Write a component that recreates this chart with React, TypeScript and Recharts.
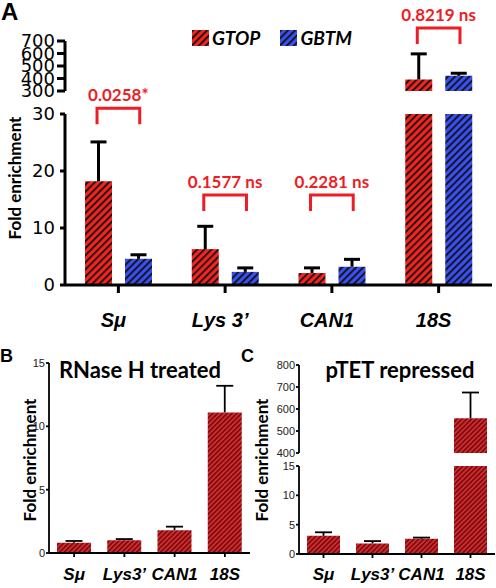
import React from "react";
import { BarChart, Bar, XAxis, YAxis, ReferenceLine, Legend } from "recharts";

// panel A: GTOP vs GBTM
const genesA = ["Sμ", "Lys 3’", "CAN1", "18S"];
const seriesA = ["GTOP", "GBTM"];
const gtop = [18.2, 6.3, 2.1, 392];
const gtopErr = [6.9, 4.0, 0.9, 205];
const gbtm = [4.6, 2.3, 3.2, 422];
const gbtmErr = [0.7, 0.7, 1.3, 20];
const pLabels = ["0.0258*", "0.1577 ns", "0.2281 ns", "0.8219 ns"];
const pBracketY = [31, 15.8, 15.8, 804];
const ticksALow = [0, 10, 20, 30];
const ticksAHigh = [300, 400, 500, 600, 700];

// panel B: RNase H treated
const genesBC = ["Sμ", "Lys3’", "CAN1", "18S"];
const rnaseH = [0.8, 1.0, 1.8, 11.1];
const rnaseHErr = [0.15, 0.1, 0.28, 2.1];
const ticksB = [0, 5, 10, 15];

// panel C: pTET repressed
const ptet = [3.1, 1.8, 2.6, 558];
const ptetErr = [0.6, 0.4, 0.2, 117];
const ticksCLow = [0, 5, 10, 15];
const ticksCHigh = [400, 500, 600, 700, 800];

const RED = "#ee1d24";
const fillsA = ["url(#hRed)", "url(#hBlue)"];

const dataA = genesA.map((g, i) => ({
  gene: g,
  x: i + 1,
  gtop: gtop[i],
  gtopErr: gtopErr[i],
  gbtm: gbtm[i],
  gbtmErr: gbtmErr[i],
}));
const dataB = genesBC.map((g, i) => ({ gene: g, v: rnaseH[i], e: rnaseHErr[i] }));
const dataC = genesBC.map((g, i) => ({ gene: g, v: ptet[i], e: ptetErr[i] }));

const abs: React.CSSProperties = { position: "absolute", left: 0, top: 0 };

// only the upper whisker, like the original
const ErrShape = (p: any) => {
  if (!(p.height > 0.5)) return null; // out of this axis segment
  const cx = p.x + p.width / 2;
  return (
    <g>
      <line x1={cx} x2={cx} y1={p.y + p.height} y2={p.y} stroke="#000" strokeWidth={p.sw} />
      <line x1={cx - p.capW / 2} x2={cx + p.capW / 2} y1={p.y} y2={p.y} stroke="#000" strokeWidth={p.sw} />
    </g>
  );
};
const errA = (p: any) => <ErrShape {...p} capW={16} sw={3} />;
const errBC = (p: any) => <ErrShape {...p} capW={17} sw={1.8} />;

const Bracket = (p: any) => (
  <path
    d={`M${p.x1},${p.y1 + 16}V${p.y1}H${p.x2}V${p.y2 + 16}`}
    fill="none"
    stroke={RED}
    strokeWidth={3}
  />
);

// brackets above 100 belong to the upper (broken) segment
const brackets = (upper: boolean) =>
  pLabels.map((lab, i) =>
    pBracketY[i] > 100 === upper ? (
      <ReferenceLine
        key={lab}
        xAxisId="n"
        ifOverflow="visible"
        segment={[
          { x: i + 1 - 0.2, y: pBracketY[i] },
          { x: i + 1 + 0.2, y: pBracketY[i] },
        ]}
        shape={Bracket}
        label={{
          value: lab,
          position: "top",
          offset: 7,
          fill: RED,
          fontSize: 17,
          fontWeight: 700,
          fontFamily: "Lato",
        }}
      />
    ) : null
  );

const LegendA = () => (
  <div style={{ display: "flex", alignItems: "center" }}>
    {seriesA.map((name, i) => (
      <span key={name} style={{ display: "inline-flex", alignItems: "center", marginRight: 20 }}>
        <svg width={17} height={16}>
          <rect width={17} height={16} fill={fillsA[i]} />
        </svg>
        <span style={{ marginLeft: 3, font: "italic 700 19px Lato", color: "#000", lineHeight: "16px" }}>
          {name}
        </span>
      </span>
    ))}
  </div>
);

const tickA = { fontFamily: "DejaVu Sans", fontSize: 18, fill: "#000" };
const tickBC = { fontFamily: "Liberation Sans Narrow, Liberation Sans", fontSize: 11, fill: "#222" };
const catA = { fontFamily: "Liberation Sans", fontWeight: 700, fontStyle: "italic", fontSize: 20, fill: "#000", dx: -5 };
const catBC = { fontFamily: "Liberation Sans", fontWeight: 700, fontStyle: "italic", fontSize: 17, fill: "#000" };
const thick = { stroke: "#000", strokeWidth: 3 };
const thin = { stroke: "#000", strokeWidth: 1.8 };

const App = () => {
  return (
    <div style={{ ...abs, width: 496, height: 588, background: "#fff", overflow: "hidden" }}>
      <svg width={0} height={0} style={{ position: "absolute" }}>
        <defs>
          <pattern id="hRed" patternUnits="userSpaceOnUse" width={5} height={5} patternTransform="rotate(45)">
            <rect width={5} height={5} fill="#f5231f" />
            <rect width={1.8} height={5} fill="#111" />
          </pattern>
          <pattern id="hBlue" patternUnits="userSpaceOnUse" width={5} height={5} patternTransform="rotate(45)">
            <rect width={5} height={5} fill="#3a4ff2" />
            <rect width={1.8} height={5} fill="#111" />
          </pattern>
          <pattern id="hDark" patternUnits="userSpaceOnUse" width={3.4} height={3.4} patternTransform="rotate(45)">
            <rect width={3.4} height={3.4} fill="#d9282c" />
            <rect width={1.4} height={3.4} fill="#5e0c0e" />
          </pattern>
        </defs>
      </svg>

      {/* A, lower segment 0-30 */}
      <BarChart width={496} height={340} data={dataA} margin={{ top: 114, right: 4, bottom: 0, left: 0 }} barSize={27} barGap={13} style={abs}>
        <XAxis dataKey="gene" height={55} interval={0} tickSize={8} tickMargin={20} axisLine={thick} tickLine={thick} tick={catA} />
        <XAxis xAxisId="n" type="number" dataKey="x" domain={[0.5, 4.5]} hide />
        <YAxis domain={[0, 30]} ticks={ticksALow} allowDataOverflow width={65} interval={0} tickSize={5} tickMargin={5} axisLine={thick} tickLine={thick} tick={tickA} />
        <Bar dataKey="gtop" stackId="a" name="GTOP" fill={fillsA[0]} isAnimationActive={false} />
        <Bar dataKey="gtopErr" stackId="a" legendType="none" shape={errA} isAnimationActive={false} />
        <Bar dataKey="gbtm" stackId="b" name="GBTM" fill={fillsA[1]} isAnimationActive={false} />
        <Bar dataKey="gbtmErr" stackId="b" legendType="none" shape={errA} isAnimationActive={false} />
        {brackets(false)}
        <Legend layout="horizontal" verticalAlign="middle" align="center" content={LegendA} wrapperStyle={{ top: 30, left: 192, width: "auto", height: "auto" }} />
      </BarChart>

      {/* A, upper segment 300-700 */}
      <BarChart width={496} height={340} data={dataA} margin={{ top: 41, right: 4, bottom: 249, left: 0 }} barSize={27} barGap={13} style={abs}>
        <XAxis dataKey="gene" hide />
        <XAxis xAxisId="n" type="number" dataKey="x" domain={[0.5, 4.5]} hide />
        <YAxis domain={[300, 700]} ticks={ticksAHigh} allowDataOverflow width={65} interval={0} tickSize={8} tickMargin={2} axisLine={thick} tickLine={thick} tick={tickA} />
        <Bar dataKey="gtop" stackId="a" fill={fillsA[0]} isAnimationActive={false} />
        <Bar dataKey="gtopErr" stackId="a" shape={errA} isAnimationActive={false} />
        <Bar dataKey="gbtm" stackId="b" fill={fillsA[1]} isAnimationActive={false} />
        <Bar dataKey="gbtmErr" stackId="b" shape={errA} isAnimationActive={false} />
        {brackets(true)}
      </BarChart>

      {/* B */}
      <BarChart width={250} height={588} data={dataB} margin={{ top: 363, right: 0, bottom: 0, left: 0 }} barSize={34} style={abs}>
        <XAxis dataKey="gene" height={35} interval={0} tickSize={4} tickMargin={11} axisLine={thin} tickLine={thin} tick={catBC} />
        <YAxis domain={[0, 15]} ticks={ticksB} width={49} interval={0} tickSize={3} tickMargin={1} axisLine={thin} tickLine={thin} tick={tickBC} />
        <Bar dataKey="v" stackId="s" fill="url(#hDark)" isAnimationActive={false} />
        <Bar dataKey="e" stackId="s" shape={errBC} isAnimationActive={false} />
      </BarChart>

      {/* C, lower segment 0-15 */}
      <BarChart width={496} height={588} data={dataC} margin={{ top: 466, right: 1, bottom: 0, left: 246 }} barSize={33} style={abs}>
        <XAxis dataKey="gene" height={34} interval={0} tickSize={4} tickMargin={10} axisLine={thin} tickLine={thin} tick={catBC} />
        <YAxis domain={[0, 15]} ticks={ticksCLow} allowDataOverflow width={53} interval={0} tickSize={3} tickMargin={1} axisLine={thin} tickLine={thin} tick={tickBC} />
        <Bar dataKey="v" stackId="s" fill="url(#hDark)" isAnimationActive={false} />
        <Bar dataKey="e" stackId="s" shape={errBC} isAnimationActive={false} />
      </BarChart>

      {/* C, upper segment 400-800 */}
      <BarChart width={496} height={588} data={dataC} margin={{ top: 365, right: 1, bottom: 135, left: 246 }} barSize={33} style={abs}>
        <XAxis dataKey="gene" hide />
        <YAxis domain={[400, 800]} ticks={ticksCHigh} allowDataOverflow width={53} interval={0} tickSize={3} tickMargin={1} axisLine={thin} tickLine={thin} tick={tickBC} />
        <Bar dataKey="v" stackId="s" fill="url(#hDark)" isAnimationActive={false} />
        <Bar dataKey="e" stackId="s" shape={errBC} isAnimationActive={false} />
      </BarChart>

      {/* panel letters, titles and axis titles */}
      <svg width={496} height={588} style={{ ...abs, pointerEvents: "none" }}>
        <g fontFamily="Liberation Sans" fontWeight={700} fill="#000">
          <text x={1} y={20} fontSize={24}>A</text>
          <text x={0} y={362} fontSize={18}>B</text>
          <text x={241} y={362} fontSize={18}>C</text>
        </g>
        <g fontFamily="Lato" fontWeight={700} fill="#000" textAnchor="middle">
          <text transform="translate(21,178) rotate(-90)" fontSize={17}>Fold enrichment</text>
          <text transform="translate(36,460) rotate(-90)" fontSize={17}>Fold enrichment</text>
          <text transform="translate(268,460) rotate(-90)" fontSize={17}>Fold enrichment</text>
          <text x={140} y={378} fontSize={22}>RNase H treated</text>
          <text x={400} y={378} fontSize={22}>pTET repressed</text>
        </g>
      </svg>
    </div>
  );
};

export default App;
